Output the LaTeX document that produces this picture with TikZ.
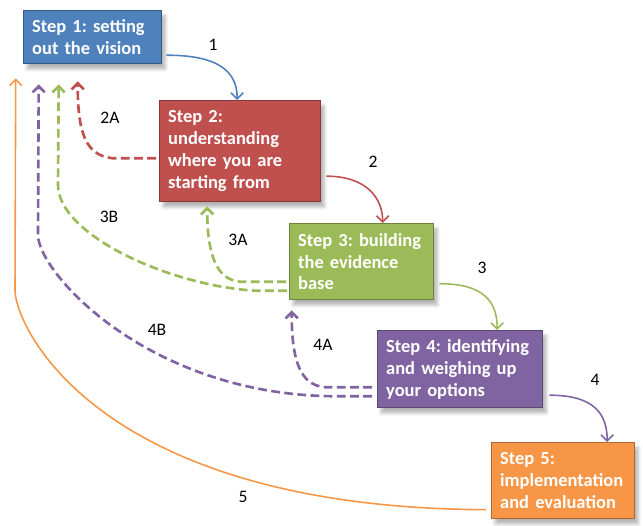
\documentclass[tikz,border=0pt]{standalone}
\usepackage{fontspec}
\setmainfont{Carlito}
\usepackage{tikz}
\usetikzlibrary{arrows.meta,shadows.blur}
\frenchspacing

\definecolor{stepblue}{HTML}{4F81BD}
\definecolor{stepred}{HTML}{C0504D}
\definecolor{stepgreen}{HTML}{9BBB59}
\definecolor{steppurple}{HTML}{8064A2}
\definecolor{steporange}{HTML}{F79646}

\tikzset{
  stepbox/.style={draw=#1!70!black, line width=0.8pt, fill=#1, text=white,
    font=\fontsize{10.5}{12.4}\selectfont\bfseries, align=left, anchor=north west,
    inner xsep=0.17cm, inner ysep=2pt,
    blur shadow={shadow xshift=2pt, shadow yshift=-3pt, shadow blur steps=6, shadow opacity=30}},
  fwd/.style={#1, line width=0.9pt, -{Straight Barb[length=3.5pt,width=7pt]}},
  back/.style={#1, line width=1.5pt, dash pattern=on 5pt off 2.5pt,
    -{Straight Barb[length=3.5pt,width=7pt]}},
  lbl/.style={font=\fontsize{10}{12}\selectfont}
}

\begin{document}
\begin{tikzpicture}[x=0.02cm, y=-0.02cm]
\useasboundingbox (0,0) rectangle (643,526);

\node[stepbox=stepblue, minimum width=2.76cm, minimum height=1.06cm, text width=2.42cm] (s1) at (23,10)
  {Step 1: setting\\out the vision};
\node[stepbox=stepred, minimum width=3.22cm, minimum height=2.02cm, text width=2.88cm] (s2) at (159,100)
  {Step 2:\\understanding\\where you are\\starting from};
\node[stepbox=stepgreen, minimum width=2.88cm, minimum height=1.52cm, text width=2.54cm] (s3) at (289,223)
  {Step 3: building\\the evidence\\base};
\node[stepbox=steppurple, minimum width=3.30cm, minimum height=1.54cm, text width=2.96cm] (s4) at (377,330)
  {Step 4: identifying\\and weighing up\\your options};
\node[stepbox=steporange, minimum width=2.86cm, minimum height=1.52cm, text width=2.52cm] (s5) at (491,442)
  {Step 5:\\implementation\\and evaluation};

\draw[fwd=stepblue] ([shift={(4,18)}]s1.east) .. controls +(50,0) and +(0,-30) .. ([shift={(-3,0)}]s2.north);
\draw[fwd=stepred] ([shift={(5,25)}]s2.east) .. controls +(40,0) and +(0,-25) .. ([shift={(21,0)}]s3.north);
\draw[fwd=stepgreen] ([shift={(5,22)}]s3.east) .. controls +(45,0) and +(0,-28) .. ([shift={(37,0)}]s4.north);
\draw[fwd=steppurple] ([shift={(6,26)}]s4.east) .. controls +(45,0) and +(0,-28) .. ([shift={(44,0)}]s5.north);
\draw[fwd=steporange] ([shift={(-5,29)}]s5.west) .. controls (98,508) and (15,327) .. (15,290)
  -- ([shift={(-77,14)}]s1.south);

\draw[back=stepred] ([shift={(-3,7)}]s2.west) -- ++(-44,0) .. controls +(-27,-3) and +(0,50) .. ([shift={(-15,17)}]s1.south);
\draw[back=stepgreen] ([shift={(-3,20)}]s3.west) -- ++(-46,0) .. controls +(-25,-2) and +(0,45) .. ([shift={(-33,4)}]s2.south);
\draw[back=stepgreen] ([shift={(-2,29)}]s3.west) -- ++(-32,0) .. controls +(-85,-5) and (58,235) .. (58,185)
  -- ([shift={(-34,20)}]s1.south);
\draw[back=steppurple] ([shift={(-5,18)}]s4.west) -- ++(-47,0) .. controls +(-25,-2) and +(0,50) .. ([shift={(-70,10)}]s3.south);
\draw[back=steppurple] ([shift={(-5,27)}]s4.west) -- ++(-42,0) .. controls (146,393) and (38,272) .. (38,235)
  -- ([shift={(-54,20)}]s1.south);

\node[lbl] (l1) at (213,45) {1};
\node[lbl] (l2) at (373,162) {2};
\node[lbl] (l3) at (482,268) {3};
\node[lbl] (l4) at (595,380) {4};
\node[lbl] (l5) at (243,497) {5};
\node[lbl] (l2a) at (110,118) {2A};
\node[lbl] (l3a) at (238,240) {3A};
\node[lbl] (l3b) at (109,217) {3B};
\node[lbl] (l4a) at (323,345) {4A};
\node[lbl] (l4b) at (157,330) {4B};
\end{tikzpicture}
\end{document}
